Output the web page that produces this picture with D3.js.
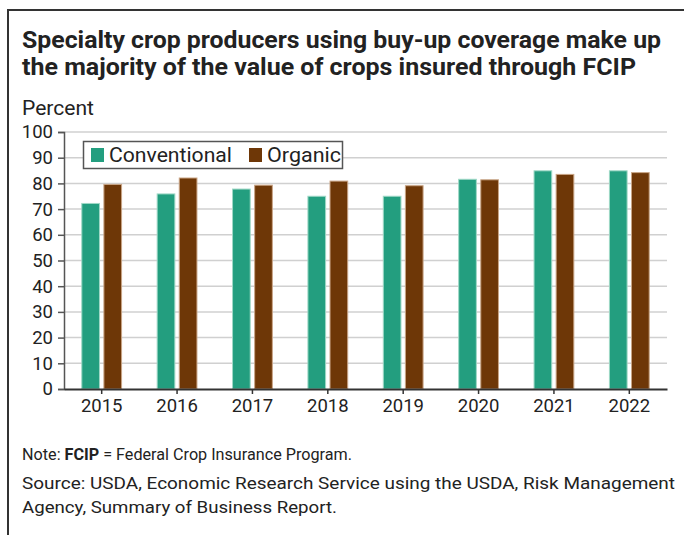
<!DOCTYPE html>
<html>
<head>
<meta charset="utf-8">
<script src="https://cdn.jsdelivr.net/npm/d3@7"></script>
<style>
  html, body { margin: 0; padding: 0; background: #fff; }
  svg { display: block; }
  text { font-family: Roboto, "Noto Sans", sans-serif; fill: #222; }
</style>
</head>
<body>
<svg id="chart" width="684" height="535"></svg>
<script>
// Share of insured crop value under buy-up coverage, by production type
const years = ["2015", "2016", "2017", "2018", "2019", "2020", "2021", "2022"];
const conventional = [72.2, 75.9, 77.8, 75.0, 75.0, 81.6, 84.9, 84.9];
const organic = [79.6, 82.1, 79.3, 80.9, 79.1, 81.4, 83.5, 84.2];
const seriesNames = ["Conventional", "Organic"];
const yTicks = [0, 10, 20, 30, 40, 50, 60, 70, 80, 90, 100];

const colors = { Conventional: "#239e7f", Organic: "#6e3707" };
const strokes = { Conventional: "#9fd8c6", Organic: "#c9a586" };

const svg = d3.select("#chart");

// Frame: top and left rules
svg.append("line").attr("x1", 7).attr("x2", 684).attr("y1", 10).attr("y2", 10)
  .attr("stroke", "#333").attr("stroke-width", 2);
svg.append("line").attr("x1", 8).attr("x2", 8).attr("y1", 9).attr("y2", 535)
  .attr("stroke", "#333").attr("stroke-width", 2);

// Squeezes or stretches a text run to the given width
function setWidth(sel, width) {
  sel.attr("textLength", width).attr("lengthAdjust", "spacingAndGlyphs");
}

const t1 = svg.append("text").attr("x", 22).attr("y", 48)
  .attr("font-size", 23).attr("font-weight", 700)
  .text("Specialty crop producers using buy-up coverage make up");
setWidth(t1, 639);
const t2 = svg.append("text").attr("x", 22).attr("y", 75)
  .attr("font-size", 23).attr("font-weight", 700)
  .text("the majority of the value of crops insured through FCIP");
setWidth(t2, 614);

const yl = svg.append("text").attr("x", 22).attr("y", 115).attr("font-size", 19.5)
  .text("Percent");
setWidth(yl, 72);

const margin = { left: 64, right: 667, top: 132, bottom: 389 };

const x = d3.scaleBand().domain(years).range([margin.left, margin.right]).padding(0);
const y = d3.scaleLinear().domain([0, 100]).range([margin.bottom, margin.top]);

// Gridlines
svg.append("g").selectAll("line").data(yTicks.filter(d => d > 0)).join("line")
  .attr("x1", margin.left).attr("x2", margin.right)
  .attr("y1", d => y(d)).attr("y2", d => y(d))
  .attr("stroke", "#d0d0d0").attr("stroke-width", 1.5);

// Bars
const inner = d3.scaleBand().domain(seriesNames).range([-21, 21]).paddingInner(0.2).paddingOuter(0.05);
const rows = years.map((yr, i) => ({ year: yr, values: [
  { name: "Conventional", value: conventional[i] },
  { name: "Organic", value: organic[i] }
] }));

const groups = svg.append("g").selectAll("g").data(rows).join("g")
  .attr("transform", d => `translate(${x(d.year) + x.bandwidth() / 2},0)`);
groups.selectAll("rect").data(d => d.values).join("rect")
  .attr("x", d => inner(d.name))
  .attr("width", inner.bandwidth())
  .attr("y", d => y(d.value))
  .attr("height", d => y(0) - y(d.value))
  .attr("fill", d => colors[d.name])
  .attr("stroke", d => strokes[d.name])
  .attr("stroke-width", 1);

// Y axis
const yAxis = svg.append("g").attr("transform", `translate(${margin.left},0)`)
  .call(d3.axisLeft(y).tickValues(yTicks).tickSize(6).tickPadding(5));
yAxis.select(".domain").attr("stroke", "#555").attr("stroke-width", 1.5);
yAxis.selectAll(".tick line").attr("stroke", "#555").attr("stroke-width", 1.5);
yAxis.selectAll(".tick text").attr("font-size", 18.5).attr("font-family", "Roboto, sans-serif").attr("fill", "#222");

// X axis
const xAxis = svg.append("g").attr("transform", `translate(0,${margin.bottom})`)
  .call(d3.axisBottom(x).tickSize(5).tickSizeOuter(0).tickPadding(5));
xAxis.select(".domain").attr("stroke", "#333").attr("stroke-width", 2);
xAxis.selectAll(".tick line").attr("stroke", "#333").attr("stroke-width", 1.5);
xAxis.selectAll(".tick text").attr("font-size", 18.5).attr("font-family", "Roboto, sans-serif").attr("fill", "#222");

// Legend
const legend = svg.append("g");
legend.append("rect").attr("x", 83.5).attr("y", 141.5).attr("width", 259).attr("height", 27)
  .attr("fill", "#fff").attr("stroke", "#555").attr("stroke-width", 1.5);
const legendItems = [
  { name: "Conventional", sx: 91, tx: 109, width: 123 },
  { name: "Organic", sx: 249, tx: 267, width: 74 }
];
legendItems.forEach(it => {
  legend.append("rect").attr("x", it.sx).attr("y", 148).attr("width", 13).attr("height", 14)
    .attr("fill", colors[it.name]);
  const t = legend.append("text").attr("x", it.tx).attr("y", 161.5).attr("font-size", 19.5)
    .text(it.name);
  setWidth(t, it.width);
});

// Notes
const n1 = svg.append("text").attr("x", 22).attr("y", 460).attr("font-size", 17);
n1.append("tspan").text("Note: ");
n1.append("tspan").attr("font-weight", 700).text("FCIP");
n1.append("tspan").text(" = Federal Crop Insurance Program.");
setWidth(n1, 330);
const s1 = svg.append("text").attr("x", 22).attr("y", 489).attr("font-size", 17)
  .text("Source: USDA, Economic Research Service using the USDA, Risk Management");
setWidth(s1, 653);
const s2 = svg.append("text").attr("x", 22).attr("y", 513).attr("font-size", 17)
  .text("Agency, Summary of Business Report.");
setWidth(s2, 315);
</script>
</body>
</html>
